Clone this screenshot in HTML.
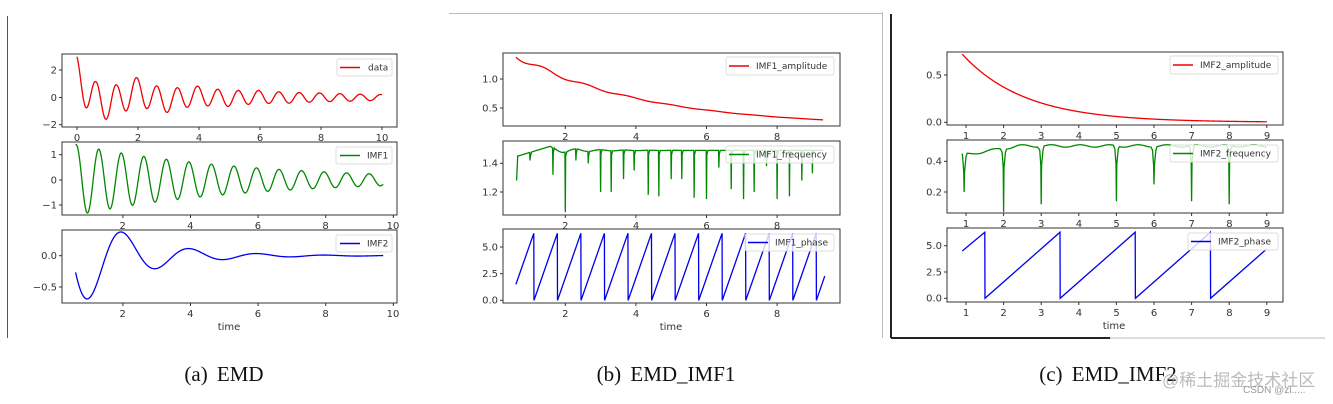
<!DOCTYPE html>
<html><head><meta charset="utf-8"><style>
html,body{margin:0;padding:0;background:#fff;}
svg{display:block}
.t{font-family:"DejaVu Sans","Liberation Sans",sans-serif;font-size:10px;fill:#333}
.cap{font-family:"Liberation Serif","DejaVu Serif",serif;font-size:21px;fill:#111;word-spacing:4px}
.lg{font-family:"DejaVu Sans","Liberation Sans",sans-serif;font-size:9px;fill:#333}
</style></head><body>
<svg id="s" width="1333" height="404" xmlns="http://www.w3.org/2000/svg">
<rect width="1333" height="404" fill="#fff"/>
<line x1="7.5" y1="16" x2="7.5" y2="338" stroke="#555" stroke-width="1"/>
<line x1="449" y1="13.5" x2="882" y2="13.5" stroke="#bbb" stroke-width="1"/>
<line x1="882.5" y1="12" x2="882.5" y2="338" stroke="#bbb" stroke-width="1"/>
<line x1="891" y1="14" x2="891" y2="338" stroke="#222" stroke-width="2"/>
<line x1="891" y1="338" x2="1110" y2="338" stroke="#222" stroke-width="2"/>
<line x1="1110" y1="338" x2="1325" y2="338" stroke="#bbb" stroke-width="1"/>
<g id="plots"></g>
<g id="frames" fill="none" stroke="#333" stroke-width="1">
<rect x="62" y="54" width="335" height="73"/>
<rect x="62" y="142" width="335" height="73"/>
<rect x="62" y="230" width="335" height="73"/>
<rect x="503" y="53" width="337" height="73"/>
<rect x="503" y="141" width="337" height="74"/>
<rect x="503" y="229" width="337" height="74"/>
<rect x="947" y="52" width="336" height="73"/>
<rect x="947" y="140" width="336" height="73"/>
<rect x="947" y="228" width="336" height="74"/>
</g>
<g id="ticks" stroke="#333" stroke-width="1"></g>
<g fill="#fff" fill-opacity="0.8" stroke="#ddd">
<rect x="337" y="59" width="55" height="17" rx="2"/>
<rect x="336" y="147" width="56" height="17" rx="2"/>
<rect x="336" y="235" width="56" height="17" rx="2"/>
<rect x="726" y="57" width="108" height="18" rx="2"/>
<rect x="726" y="146" width="108" height="17" rx="2"/>
<rect x="745" y="234" width="89" height="17" rx="2"/>
<rect x="1170" y="56" width="108" height="18" rx="2"/>
<rect x="1170" y="145" width="108" height="17" rx="2"/>
<rect x="1188" y="233" width="90" height="17" rx="2"/>
</g>
<g stroke-width="1.5">
<line x1="340" y1="67.5" x2="360" y2="67.5" stroke="#e00"/>
<line x1="340" y1="155.5" x2="360" y2="155.5" stroke="#080"/>
<line x1="340" y1="243.5" x2="360" y2="243.5" stroke="#00e"/>
<line x1="729" y1="66" x2="749" y2="66" stroke="#e00"/>
<line x1="729" y1="154.5" x2="749" y2="154.5" stroke="#080"/>
<line x1="748" y1="242.5" x2="768" y2="242.5" stroke="#00e"/>
<line x1="1173" y1="65" x2="1193" y2="65" stroke="#e00"/>
<line x1="1173" y1="153.5" x2="1193" y2="153.5" stroke="#080"/>
<line x1="1191" y1="241.5" x2="1211" y2="241.5" stroke="#00e"/>
</g>
<g class="lg">
<text x="368" y="70.5">data</text>
<text x="367" y="158.5">IMF1</text>
<text x="367" y="246.5">IMF2</text>
<text x="756" y="69">IMF1_amplitude</text>
<text x="756" y="157.5">IMF1_frequency</text>
<text x="775" y="245.5">IMF1_phase</text>
<text x="1200" y="68">IMF2_amplitude</text>
<text x="1200" y="156.5">IMF2_frequency</text>
<text x="1218" y="244.5">IMF2_phase</text>
</g>
<g class="t" text-anchor="end">
<text x="57" y="73.5">2</text><text x="57" y="101">0</text><text x="57" y="128">−2</text>
<text x="57" y="158">1</text><text x="57" y="183.5">0</text><text x="57" y="208.5">−1</text>
<text x="57" y="259">0.0</text><text x="57" y="290.5">−0.5</text>
<text x="498" y="82.5">1.0</text><text x="498" y="111.5">0.5</text>
<text x="498" y="166.5">1.4</text><text x="498" y="195.5">1.2</text>
<text x="498" y="250.5">5.0</text><text x="498" y="277">2.5</text><text x="498" y="303.5">0.0</text>
<text x="942" y="78.5">0.5</text><text x="942" y="125.5">0.0</text>
<text x="942" y="164.5">0.4</text><text x="942" y="195.5">0.2</text>
<text x="942" y="249">5.0</text><text x="942" y="275.5">2.5</text><text x="942" y="301.5">0.0</text>
</g>
<g class="t" text-anchor="middle">
<text x="77" y="141">0</text><text x="138" y="141">2</text><text x="199" y="141">4</text><text x="260" y="141">6</text><text x="321" y="141">8</text><text x="382" y="141">10</text>
<text x="122.7" y="229">2</text><text x="190.3" y="229">4</text><text x="257.9" y="229">6</text><text x="325.5" y="229">8</text><text x="393" y="229">10</text>
<text x="122.7" y="317">2</text><text x="190.3" y="317">4</text><text x="257.9" y="317">6</text><text x="325.5" y="317">8</text><text x="393" y="317">10</text>
<text x="229" y="330">time</text>
<text x="565.3" y="140">2</text><text x="636" y="140">4</text><text x="706.6" y="140">6</text><text x="777" y="140">8</text>
<text x="565.3" y="229">2</text><text x="636" y="229">4</text><text x="706.6" y="229">6</text><text x="777" y="229">8</text>
<text x="565.3" y="317">2</text><text x="636" y="317">4</text><text x="706.6" y="317">6</text><text x="777" y="317">8</text>
<text x="671" y="330">time</text>
</g>
<text class="t" x="1114" y="329" text-anchor="middle">time</text>
<g class="t" text-anchor="middle">
<text x="966" y="139">1</text><text x="1003.6" y="139">2</text><text x="1041.2" y="139">3</text><text x="1078.9" y="139">4</text><text x="1116.5" y="139">5</text><text x="1154.1" y="139">6</text><text x="1191.7" y="139">7</text><text x="1229.4" y="139">8</text><text x="1267" y="139">9</text>
<text x="966" y="227">1</text><text x="1003.6" y="227">2</text><text x="1041.2" y="227">3</text><text x="1078.9" y="227">4</text><text x="1116.5" y="227">5</text><text x="1154.1" y="227">6</text><text x="1191.7" y="227">7</text><text x="1229.4" y="227">8</text><text x="1267" y="227">9</text>
<text x="966" y="316">1</text><text x="1003.6" y="316">2</text><text x="1041.2" y="316">3</text><text x="1078.9" y="316">4</text><text x="1116.5" y="316">5</text><text x="1154.1" y="316">6</text><text x="1191.7" y="316">7</text><text x="1229.4" y="316">8</text><text x="1267" y="316">9</text>
</g>
<text class="cap" x="224" y="381" text-anchor="middle">(a) EMD</text>
<text class="cap" x="666" y="381" text-anchor="middle">(b) EMD_IMF1</text>
<text class="cap" x="1108" y="381" text-anchor="middle">(c) EMD_IMF2</text>
<text x="1162" y="386" font-family="'Liberation Sans','Noto Sans CJK SC',sans-serif" font-size="17" fill="#aaa" fill-opacity="0.8">@稀土掘金技术社区</text>
<text x="1243" y="393" font-family="'Liberation Sans',sans-serif" font-size="10" fill="#999">CSDN @zl.....</text>
</svg>
<script>
var NS="http://www.w3.org/2000/svg",P=document.getElementById("plots"),T=document.getElementById("ticks");
function path(d,c){var p=document.createElementNS(NS,"path");p.setAttribute("d",d);p.setAttribute("fill","none");p.setAttribute("stroke",c);p.setAttribute("stroke-width","1.3");P.appendChild(p);}
function tick(x1,y1,x2,y2){var l=document.createElementNS(NS,"line");l.setAttribute("x1",x1);l.setAttribute("y1",y1);l.setAttribute("x2",x2);l.setAttribute("y2",y2);T.appendChild(l);}
function ax(x0,sl,va,pa,vb,pb){return{X:function(t){return x0+sl*t},Y:function(v){return pa+(v-va)*(pb-pa)/(vb-va)}};}
function fn(a,f,t0,t1,c,n){n=n||600;var d="";for(var i=0;i<=n;i++){var t=t0+(t1-t0)*i/n;d+=(i?"L":"M")+a.X(t).toFixed(2)+","+a.Y(f(t)).toFixed(2);}path(d,c);}
function pts(a,arr,c){var d="";arr.forEach(function(p,i){d+=(i?"L":"M")+a.X(p[0]).toFixed(2)+","+a.Y(p[1]).toFixed(2);});path(d,c);}
var amp1=function(t){return 1.4*Math.exp(-0.2*(t-0.6))};
var imf1=function(t){return amp1(t)*Math.cos(2*Math.PI*1.5*(t-0.62))};
var amp2=function(t){return 0.72*Math.exp(-0.6*(t-0.9))};
var imf2=function(t){return amp2(t)*Math.cos(Math.PI*(t-2))};
var a1=ax(77,30.5,2,70,0,97.5),a2=ax(55.3,33.8,1,154.7,0,180),a3=ax(55.3,33.8,0,255.7,-0.5,287);
fn(a1,function(t){return imf1(t)+Math.max(-0.3,imf2(t))+0.3*Math.exp(-3*t)},0,10,"#e00",900);
fn(a2,imf1,0.6,9.7,"#080",900);
fn(a3,imf2,0.6,9.7,"#00e");
[0,2,4,6,8,10].forEach(function(v){tick(a1.X(v),127,a1.X(v),130)});
[2,4,6,8,10].forEach(function(v){tick(a2.X(v),215,a2.X(v),218);tick(a2.X(v),303,a2.X(v),306)});
[[2,70],[0,97.5],[-2,124.7],[1,154.7],[0,180],[-1,205],[0,255.7],[-0.5,287]].forEach(function(p){tick(59,p[1],62,p[1])});
var b1=ax(494.7,35.3,1,79,0.5,108),b2=ax(494.7,35.3,1.4,163.3,1.2,192),b3=ax(494.7,35.3,5,247,2.5,273.7);
fn(b1,function(t){return 0.18+1.22*Math.exp(-0.27*(t-0.6))+0.05*Math.sin(2*Math.PI*(t-1.1)/1.2)*Math.exp(-0.5*(t-0.6))},0.6,9.3,"#e00");
var sp=[[1.0,1.42],[1.65,1.32],[2.0,1.06],[2.3,1.42],[2.65,1.4],[3.0,1.2],[3.3,1.2],[3.65,1.29],[3.95,1.35],[4.35,1.18],[4.65,1.17],[5.0,1.29],[5.3,1.29],[5.65,1.16],[6.0,1.15],[6.35,1.37],[6.7,1.22],[7.05,1.15],[7.35,1.2],[7.7,1.38],[8.0,1.15],[8.35,1.17],[8.7,1.28],[9.0,1.33]];
function base1(t){if(t<1.6)return 1.45+0.07*(t-0.65)/0.95;return 1.49+0.02*Math.cos(2*Math.PI*(t-1.6)/0.7)*Math.exp(-(t-1.6));}
var arr=[[0.62,1.28],[0.65,1.44]];var t=0.65;
sp.forEach(function(s){for(;t<s[0]-0.06;t+=0.02)arr.push([t,base1(t)]);arr.push([s[0]-0.01,base1(s[0])]);arr.push([s[0],s[1]]);arr.push([s[0]+0.01,base1(s[0])-0.03]);arr.push([s[0]+0.04,base1(s[0])]);t=s[0]+0.06;});
for(;t<=9.3;t+=0.02)arr.push([t,base1(t)]);
pts(b2,arr,"#080");
var ph=[];var t0=0.6,v0=1.5,per=0.6667,sl=2*Math.PI/per,tw=t0+(2*Math.PI-v0)/sl;ph.push([t0,v0]);
while(tw<9.35){ph.push([tw,2*Math.PI]);ph.push([tw+0.005,0]);tw+=per;}
ph.push([9.35,(9.35-(tw-per))*sl]);pts(b3,ph,"#00e");
[2,4,6,8].forEach(function(v){tick(b1.X(v),126,b1.X(v),129);tick(b1.X(v),215,b1.X(v),218);tick(b1.X(v),303,b1.X(v),306)});
[79,108,163.3,192,247,273.7,300.3].forEach(function(y){tick(500,y,503,y)});
var c1=ax(928.4,37.6,0.5,75,0,122.3),c2=ax(928.4,37.6,0.4,161.3,0.2,192),c3=ax(928.4,37.6,5,245.7,2.5,272);
fn(c1,function(t){return 0.72*Math.exp(-0.6*(t-0.9))},0.9,9,"#e00");
function base2(t){return Math.min(0.5,0.44+0.04*(t-0.9))+0.008*Math.sin(2*Math.PI*t*1.3);}
var sp2=[[0.95,0.2],[2.0,0.07],[3.0,0.12],[5.0,0.14],[6.0,0.25],[7.0,0.14],[8.0,0.12]];
arr=[[0.9,0.45]];t=0.91;
sp2.forEach(function(s){for(;t<s[0]-0.08;t+=0.02)arr.push([t,base2(t)]);arr.push([s[0]-0.04,base2(s[0])-0.02]);arr.push([s[0]-0.01,base2(s[0])-0.12]);arr.push([s[0],s[1]]);arr.push([s[0]+0.01,base2(s[0])-0.12]);arr.push([s[0]+0.05,base2(s[0])-0.02]);t=s[0]+0.08;});
for(;t<=9;t+=0.02)arr.push([t,base2(t)]);
pts(c2,arr,"#080");
pts(c3,[[0.9,4.5],[1.5,6.28],[1.505,0],[3.5,6.28],[3.505,0],[5.5,6.28],[5.505,0],[7.5,6.28],[7.505,0],[9,4.7]],"#00e");
[1,2,3,4,5,6,7,8,9].forEach(function(v){var x=c1.X(v);tick(x,125,x,128);tick(x,213,x,216);tick(x,302,x,305)});
[75,122.3,161.3,192,245.7,272,298.3].forEach(function(y){tick(944,y,947,y)});
</script>
</body></html>
